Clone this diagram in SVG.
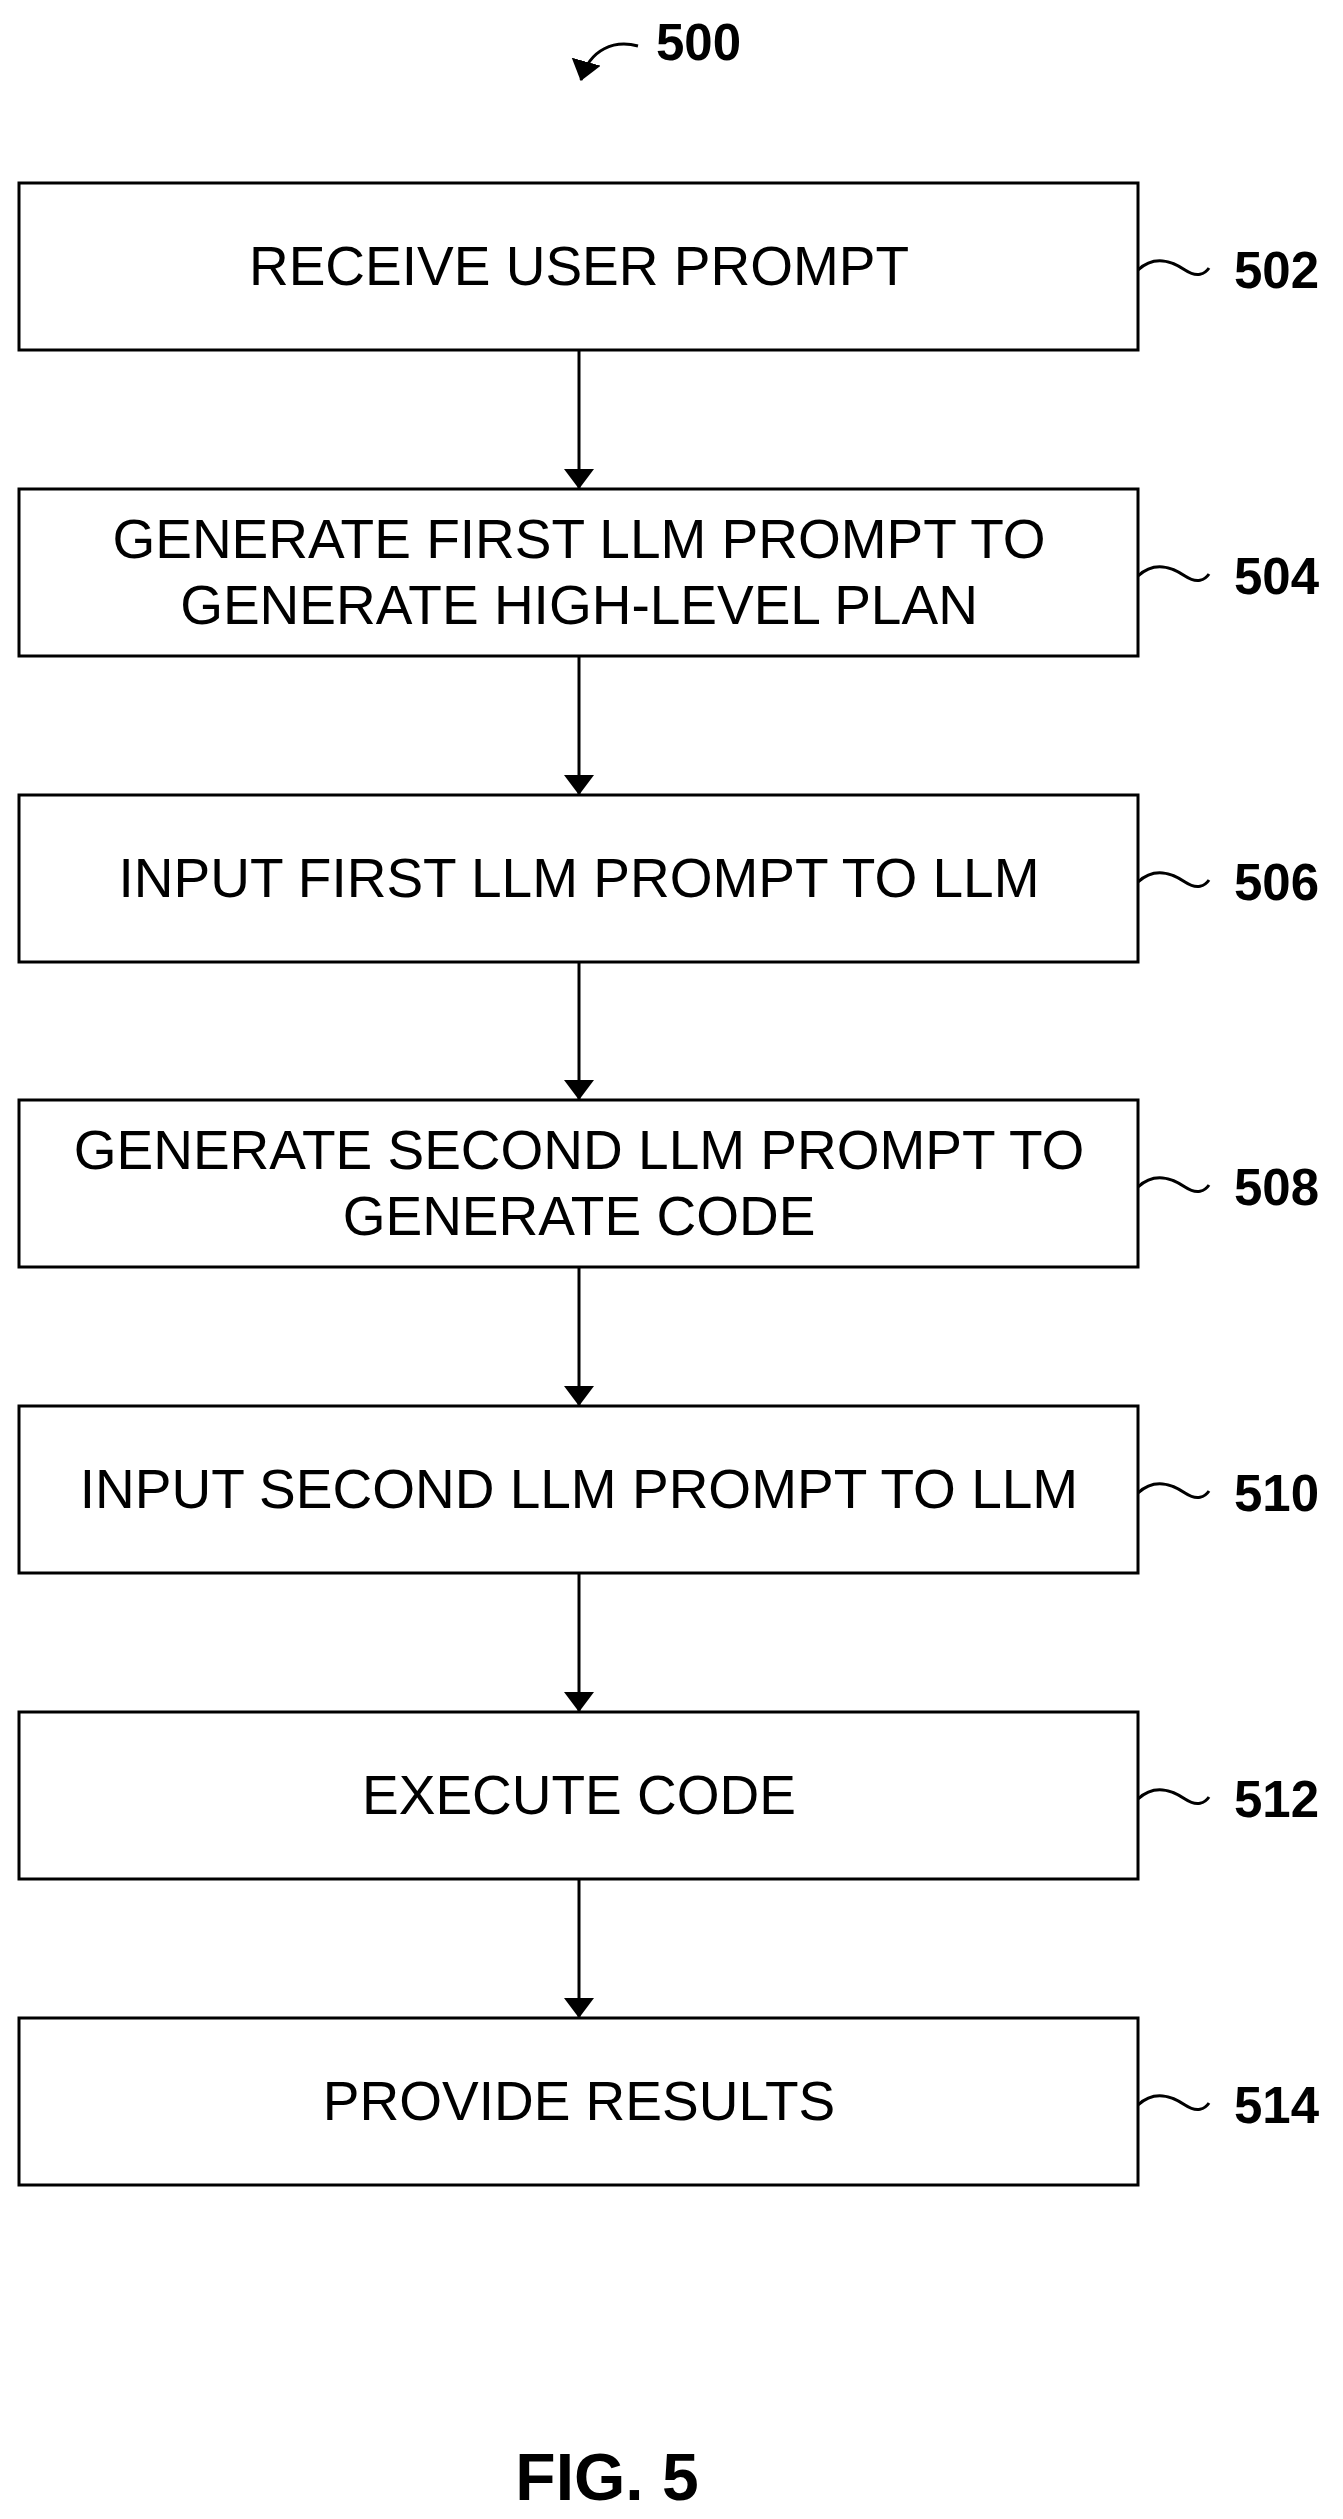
<svg xmlns="http://www.w3.org/2000/svg" width="1343" height="2519" viewBox="0 0 1343 2519">
<style>
.b{fill:#fff;stroke:#000;stroke-width:3}
.t{font-family:"Liberation Sans",Arial,sans-serif;font-size:55px;text-anchor:middle}
.l{font-family:"Liberation Sans",Arial,sans-serif;font-size:51px;font-weight:bold}
.c{fill:none;stroke:#000;stroke-width:3}
</style>
<defs>
<marker id="ah" viewBox="0 0 20 30" refX="19" refY="15" markerWidth="20" markerHeight="30" orient="auto" markerUnits="userSpaceOnUse"><path d="M0,0L20,15L0,30z"/></marker></defs>
<rect width="1343" height="2519" fill="#fff"/>
<g id="n500"><text class="l" x="656" y="60">500</text><path class="c" d="M638,46 C615,40 590,48 581,80" marker-end="url(#ah)"/></g>
<g id="n502"><rect class="b" x="19" y="183" width="1119" height="167"/><text class="t" x="579" y="285">RECEIVE USER PROMPT</text><path class="c" d="M1138,270 c16,-15 34,-9 47,0 c12,8 20,4 24,-2"/><text class="l" x="1234" y="288">502</text></g>
<g id="n504"><rect class="b" x="19" y="489" width="1119" height="167"/><text class="t" x="579" y="558">GENERATE FIRST LLM PROMPT TO</text><text class="t" x="579" y="624">GENERATE HIGH-LEVEL PLAN</text><path class="c" d="M1138,576 c16,-15 34,-9 47,0 c12,8 20,4 24,-2"/><text class="l" x="1234" y="594">504</text></g>
<g id="n506"><rect class="b" x="19" y="795" width="1119" height="167"/><text class="t" x="579" y="897">INPUT FIRST LLM PROMPT TO LLM</text><path class="c" d="M1138,882 c16,-15 34,-9 47,0 c12,8 20,4 24,-2"/><text class="l" x="1234" y="900">506</text></g>
<g id="n508"><rect class="b" x="19" y="1100" width="1119" height="167"/><text class="t" x="579" y="1169">GENERATE SECOND LLM PROMPT TO</text><text class="t" x="579" y="1235">GENERATE CODE</text><path class="c" d="M1138,1187 c16,-15 34,-9 47,0 c12,8 20,4 24,-2"/><text class="l" x="1234" y="1205">508</text></g>
<g id="n510"><rect class="b" x="19" y="1406" width="1119" height="167"/><text class="t" x="579" y="1508">INPUT SECOND LLM PROMPT TO LLM</text><path class="c" d="M1138,1493 c16,-15 34,-9 47,0 c12,8 20,4 24,-2"/><text class="l" x="1234" y="1511">510</text></g>
<g id="n512"><rect class="b" x="19" y="1712" width="1119" height="167"/><text class="t" x="579" y="1814">EXECUTE CODE</text><path class="c" d="M1138,1799 c16,-15 34,-9 47,0 c12,8 20,4 24,-2"/><text class="l" x="1234" y="1817">512</text></g>
<g id="n514"><rect class="b" x="19" y="2018" width="1119" height="167"/><text class="t" x="579" y="2120">PROVIDE RESULTS</text><path class="c" d="M1138,2105 c16,-15 34,-9 47,0 c12,8 20,4 24,-2"/><text class="l" x="1234" y="2123">514</text></g>
<g id="fig"><text x="607" y="2500" style="font-family:'Liberation Sans',Arial,sans-serif;font-size:66px;font-weight:bold;text-anchor:middle">FIG. 5</text></g>
<g id="connectors">
<path class="c" d="M579,350V488" marker-end="url(#ah)"/>
<path class="c" d="M579,656V794" marker-end="url(#ah)"/>
<path class="c" d="M579,962V1099" marker-end="url(#ah)"/>
<path class="c" d="M579,1267V1405" marker-end="url(#ah)"/>
<path class="c" d="M579,1573V1711" marker-end="url(#ah)"/>
<path class="c" d="M579,1879V2017" marker-end="url(#ah)"/>
</g>
</svg>
